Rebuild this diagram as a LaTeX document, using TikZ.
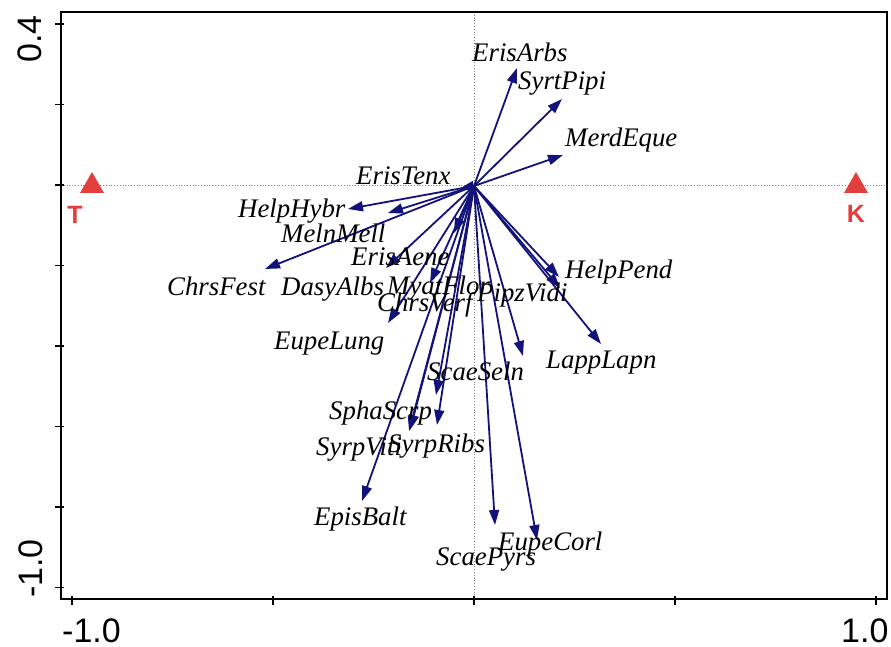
\documentclass[tikz,border=0pt]{standalone}
\usepackage{fontspec}
\setmainfont{Liberation Serif}
\setsansfont{Liberation Sans}
\usetikzlibrary{arrows.meta}
\definecolor{arrc}{RGB}{18,18,122}
\definecolor{redm}{RGB}{226,62,62}
\tikzset{
  arr/.style={draw=arrc,line width=1.8pt,-{Triangle[length=15pt,width=10pt]}},
  lab/.style={anchor=base west,inner sep=0pt,font=\fontsize{26.8}{30}\selectfont\itshape},
  axl/.style={anchor=base west,inner sep=0pt,font=\fontsize{34}{38}\selectfont\sffamily},
  env/.style={anchor=center,inner sep=0pt,text=redm,font=\fontsize{25}{28}\selectfont\sffamily\bfseries},
  tri/.style={fill=redm,draw=none},
  frame/.style={line width=1.6pt,black},
  guide/.style={gray,dotted,line width=0.8pt},
  tick/.style={line width=1.2pt,black}
}
\begin{document}
\begin{tikzpicture}[x=1pt,y=-1pt]
\useasboundingbox (0,0) rectangle (891,647);
% guides
\draw[guide] (61,185) -- (887,185);
\draw[guide] (474,12) -- (474,599);
% frame
\draw[frame] (61,12) -- (887,12) -- (887,599) -- (61,599) -- cycle;
% ticks
\foreach \y in {24,104.5,185,265.5,346,426.5,507,587.5} \draw[tick] (55,\y) -- (64,\y);
\foreach \x in {72,273,474,675,876} \draw[tick] (\x,596) -- (\x,605);
% axis labels
\node[axl] (xl1) at (62,642) {-1.0};
\node[axl] (xl2) at (841,642) {1.0};
\node[axl,rotate=90] (yl1) at (41,63) {0.4};
\node[axl,rotate=90] (yl2) at (42,598) {-1.0};
% environmental points
\fill[tri] (80,193) -- (104,193) -- (92,172) -- cycle;
\fill[tri] (844,193) -- (868,193) -- (856,172) -- cycle;
\node[env] (T) at (75,215) {T};
\node[env] (K) at (856,214) {K};
% origin and arrow tips
\coordinate (O) at (474,186);
\coordinate (tErisArbs) at (517,68);
\coordinate (tSyrtPipi) at (562,99);
\coordinate (tMerdEque) at (563,155);
\coordinate (tErisTenx) at (459,189);
\coordinate (tHelpHybr) at (348,209);
\coordinate (tMelnMell) at (388,213);
\coordinate (tChrsFest) at (265,269);
\coordinate (tErisAene) at (386,268);
\coordinate (tDasyAlbs) at (454,233);
\coordinate (tMyatFlor) at (430,283);
\coordinate (tChrsVerf) at (560,288);
\coordinate (tPipzVidi) at (523,356);
\coordinate (tHelpPend) at (559,277);
\coordinate (tEupeLung) at (388,323);
\coordinate (tLappLapn) at (601,344);
\coordinate (tScaeSeln) at (436,395);
\coordinate (tSphaScrp) at (410,430);
\coordinate (tSyrpViti) at (409,431);
\coordinate (tSyrpRibs) at (437,425);
\coordinate (tEpisBalt) at (362,501);
\coordinate (tScaePyrs) at (495,525);
\coordinate (tEupeCorl) at (537,540);
\foreach \n in {ErisArbs,SyrtPipi,MerdEque,ErisTenx,HelpHybr,MelnMell,ChrsFest,ErisAene,DasyAlbs,MyatFlor,ChrsVerf,PipzVidi,HelpPend,EupeLung,LappLapn,ScaeSeln,SphaScrp,SyrpViti,SyrpRibs,EpisBalt,ScaePyrs,EupeCorl}
  \draw[arr] (O) -- (t\n);
% species labels
\node[lab] (lErisArbs) at (472,62) {ErisArbs};
\node[lab] (lSyrtPipi) at (518,90) {SyrtPipi};
\node[lab] (lMerdEque) at (565,147) {MerdEque};
\node[lab] (lErisTenx) at (356,185) {ErisTenx};
\node[lab] (lHelpHybr) at (238,217) {HelpHybr};
\node[lab] (lMelnMell) at (281,242) {MelnMell};
\node[lab] (lErisAene) at (351,265) {ErisAene};
\node[lab] (lChrsFest) at (167,295) {ChrsFest};
\node[lab] (lDasyAlbs) at (281,295) {DasyAlbs};
\node[lab] (lMyatFlor) at (387,294) {MyatFlor};
\node[lab] (lChrsVerf) at (377,311) {ChrsVerf};
\node[lab] (lPipzVidi) at (477,301) {PipzVidi};
\node[lab] (lHelpPend) at (565,278) {HelpPend};
\node[lab] (lEupeLung) at (274,349) {EupeLung};
\node[lab] (lLappLapn) at (546,368) {LappLapn};
\node[lab] (lScaeSeln) at (427,380) {ScaeSeln};
\node[lab] (lSphaScrp) at (329,419) {SphaScrp};
\node[lab] (lSyrpViti) at (316,455) {SyrpViti};
\node[lab] (lSyrpRibs) at (388,452) {SyrpRibs};
\node[lab] (lEpisBalt) at (314,525) {EpisBalt};
\node[lab] (lEupeCorl) at (498,550) {EupeCorl};
\node[lab] (lScaePyrs) at (436,565) {ScaePyrs};
\end{tikzpicture}
\end{document}
